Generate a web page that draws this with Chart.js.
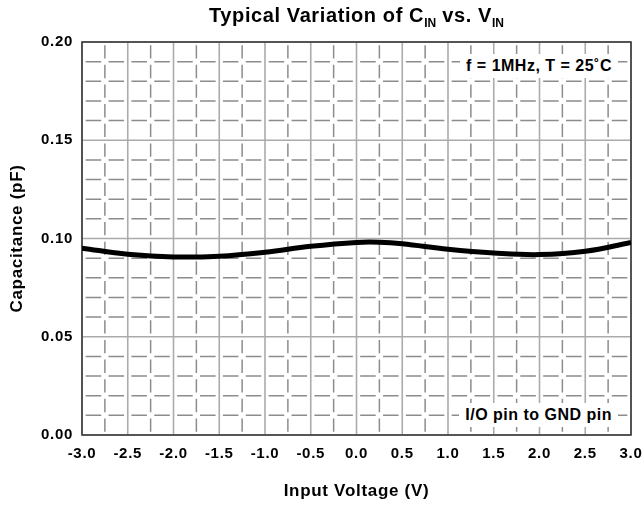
<!DOCTYPE html>
<html>
<head>
<meta charset="utf-8">
<script src="https://cdn.jsdelivr.net/npm/chart.js@4/dist/chart.umd.min.js"></script>
<style>
  html, body { margin: 0; padding: 0; background: #fff; }
  #wrap { position: relative; width: 643px; height: 505px; font-family: "Liberation Sans", Arial, sans-serif; }
  canvas { position: absolute; left: 0; top: 0; }
  #title { position: absolute; left: 0; width: 713px; top: 4px; text-align: center; font-weight: bold; font-size: 20px; letter-spacing: 0.6px; color: #000; white-space: nowrap; }
  #title sub { font-size: 12px; vertical-align: -5px; letter-spacing: 0; }
  .note { position: absolute; background: #fff; font-weight: bold; font-size: 16px; letter-spacing: 0.5px; color: #000; white-space: nowrap; padding: 2px 6px; line-height: 20px; }
</style>
</head>
<body>
<div id="wrap">
  <canvas id="c" width="643" height="505"></canvas>
  <div id="title">Typical Variation of C<sub>IN</sub> vs. V<sub>IN</sub></div>
  <div class="note" id="n1" style="right:25px; top:54px;">f = 1MHz, T = 25˚C</div>
  <div class="note" id="n2" style="right:25px; top:403px;">I/O pin to GND pin</div>
</div>
<script>
// Data
const voltages = [-3.0, -2.5, -2.0, -1.5, -1.0, -0.5, 0.0, 0.25, 0.5, 1.0, 1.5, 2.0, 2.5, 3.0];
const capacitance = [0.0951, 0.0920, 0.0906, 0.0910, 0.0930, 0.0960, 0.0980, 0.0981, 0.0973, 0.0945, 0.0926, 0.0918, 0.0935, 0.0980];
const xTicks = [-3.0, -2.5, -2.0, -1.5, -1.0, -0.5, 0.0, 0.5, 1.0, 1.5, 2.0, 2.5, 3.0];
const yTicks = [0.00, 0.05, 0.10, 0.15, 0.20];
const xMinorStep = 0.25;
const yMinorStep = 0.01;

const FONT = "'Liberation Sans', Arial, sans-serif";

const gridPlugin = {
  id: 'customGrid',
  beforeDraw(chart) {
    chart.ctx.letterSpacing = '0.7px';
  },
  beforeDatasetsDraw(chart) {
    const {ctx, chartArea: a, scales: {x, y}} = chart;
    ctx.save();
    ctx.letterSpacing = '0px';
    const xs = x.getPixelForValue(xMinorStep) - x.getPixelForValue(0);
    const ys = y.getPixelForValue(0) - y.getPixelForValue(yMinorStep);
    ctx.strokeStyle = '#8c8c8c';
    ctx.lineWidth = 1.5;
    for (let v = yMinorStep; v < 0.2 - 1e-9; v += yMinorStep) {
      const r = Math.round(v * 100) / 100;
      if (Math.abs(r / 0.05 - Math.round(r / 0.05)) < 1e-6) continue;
      const py = y.getPixelForValue(r);
      ctx.setLineDash([xs * 0.68, xs * 0.32]);
      ctx.lineDashOffset = -xs * 0.16;
      ctx.beginPath(); ctx.moveTo(a.left, py); ctx.lineTo(a.right, py); ctx.stroke();
    }
    for (let v = -3 + xMinorStep; v < 3; v += 2 * xMinorStep) {
      const px = x.getPixelForValue(v);
      ctx.setLineDash([ys * 0.68, ys * 0.32]);
      ctx.lineDashOffset = -ys * 0.16;
      ctx.beginPath(); ctx.moveTo(px, a.bottom); ctx.lineTo(px, a.top); ctx.stroke();
    }
    ctx.setLineDash([]);
    ctx.strokeStyle = '#ababab';
    ctx.lineWidth = 1.6;
    xTicks.forEach(v => {
      const px = x.getPixelForValue(v);
      ctx.beginPath(); ctx.moveTo(px, a.top); ctx.lineTo(px, a.bottom); ctx.stroke();
    });
    yTicks.forEach(v => {
      const py = y.getPixelForValue(v);
      ctx.beginPath(); ctx.moveTo(a.left, py); ctx.lineTo(a.right, py); ctx.stroke();
    });
    ctx.strokeStyle = '#3a3a3a';
    ctx.lineWidth = 1.6;
    ctx.strokeRect(a.left, a.top, a.right - a.left, a.bottom - a.top);
    ctx.restore();
  }
};

new Chart(document.getElementById('c'), {
  type: 'line',
  data: {
    datasets: [{
      data: voltages.map((v, i) => ({x: v, y: capacitance[i]})),
      borderColor: '#000',
      borderWidth: 5,
      pointRadius: 0,
      tension: 0.4,
      fill: false
    }]
  },
  options: {
    responsive: false,
    animation: false,
    devicePixelRatio: 1,
    layout: { padding: { top: 42, right: 12, left: 0, bottom: 0 } },
    plugins: { legend: { display: false }, tooltip: { enabled: false } },
    scales: {
      x: {
        type: 'linear', min: -3, max: 3,
        afterBuildTicks: s => { s.ticks = xTicks.map(v => ({value: v})); },
        afterFit: s => { s.height = 70; s.paddingLeft = 0; s.paddingRight = 0; },
        grid: { display: false, drawTicks: false, tickLength: 0 },
        border: { display: false },
        ticks: { autoSkip: false, maxRotation: 0, padding: 10, color: '#000',
          font: { family: FONT, size: 15, weight: 'bold' },
          callback: v => Number(v).toFixed(1) },
        title: { display: true, text: 'Input Voltage (V)', color: '#000',
          font: { family: FONT, size: 17, weight: 'bold' }, padding: { top: 0, bottom: 3 } }
      },
      y: {
        type: 'linear', min: 0, max: 0.2,
        afterBuildTicks: s => { s.ticks = yTicks.map(v => ({value: v})); },
        afterFit: s => { s.width = 82; s.paddingTop = 0; s.paddingBottom = 0; },
        grid: { display: false, drawTicks: false, tickLength: 0 },
        border: { display: false },
        ticks: { autoSkip: false, padding: 9, color: '#000',
          font: { family: FONT, size: 15, weight: 'bold' },
          callback: v => Number(v).toFixed(2) },
        title: { display: true, text: 'Capacitance (pF)', color: '#000',
          font: { family: FONT, size: 17, weight: 'bold' }, padding: { top: 7, bottom: 0 } }
      }
    }
  },
  plugins: [gridPlugin]
});
</script>
</body>
</html>
